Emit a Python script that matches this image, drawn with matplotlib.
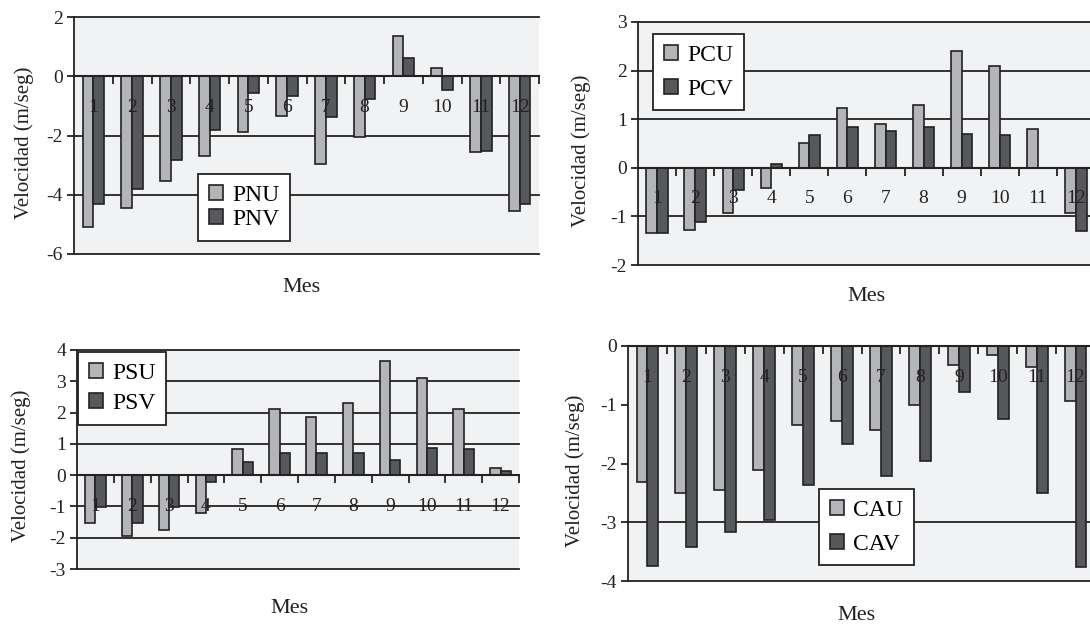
import matplotlib
matplotlib.use("Agg")
import matplotlib.pyplot as plt
from matplotlib.transforms import offset_copy

plt.rcParams['font.family'] = ['Liberation Serif', 'DejaVu Serif']
plt.rcParams['axes.unicode_minus'] = False

# datos (m/seg)
meses = list(range(1, 13))
etiquetas = [str(m) for m in meses]

pnu = [-5.1, -4.45, -3.55, -2.7, -1.87, -1.35, -2.95, -2.05, 1.35, 0.27, -2.57, -4.55]
pnv = [-4.3, -3.8, -2.83, -1.8, -0.58, -0.65, -1.39, -0.78, 0.6, -0.45, -2.52, -4.31]

pcu = [-1.35, -1.27, -0.92, -0.41, 0.51, 1.23, 0.9, 1.3, 2.41, 2.09, 0.8, -0.92]
pcv = [-1.35, -1.11, -0.45, 0.08, 0.67, 0.84, 0.76, 0.84, 0.7, 0.67, 0.0, -1.31]

psu = [-1.52, -1.96, -1.76, -1.21, 0.84, 2.1, 1.85, 2.32, 3.66, 3.12, 2.1, 0.23]
psv = [-1.02, -1.52, -1.02, -0.21, 0.42, 0.71, 0.71, 0.71, 0.47, 0.88, 0.83, 0.13]

cau = [-2.31, -2.51, -2.45, -2.11, -1.34, -1.27, -1.43, -1.0, -0.32, -0.15, -0.35, -0.94]
cav = [-3.74, -3.42, -3.16, -2.97, -2.37, -1.67, -2.21, -1.96, -0.78, -1.24, -2.51, -3.77]

W, H = 1090, 628
fondo = '#f1f2f4'
claro = '#b4b5b9'
oscuro = '#56585b'
borde = '#222222'

fig = plt.figure(figsize=(W / 100, H / 100), dpi=100)


def panel(caja, u, v, nombres, ylim, yticks, rejilla, leg_xy, leg_sep, mes_xy, ylab_x):
    x0, x1, y0, y1 = caja
    ax = fig.add_axes([x0 / W, 1 - y1 / H, (x1 - x0) / W, (y1 - y0) / H])
    ax.set_facecolor(fondo)
    w = 0.28
    xs = [m for m in meses]
    ax.bar([x - w / 2 for x in xs], u, w, color=claro, edgecolor=borde, lw=1.2,
           label=nombres[0], zorder=3)
    ax.bar([x + w / 2 for x in xs], v, w, color=oscuro, edgecolor=borde, lw=1.2,
           label=nombres[1], zorder=3)
    ax.set_xlim(0.5, 12.5)
    ax.set_ylim(*ylim)

    for g in rejilla:
        ax.axhline(g, color=borde, lw=1.3, zorder=1, clip_on=False)

    for s in ['top', 'right']:
        ax.spines[s].set_visible(False)
    ax.spines['left'].set_color(borde)
    ax.spines['left'].set_linewidth(1.3)
    ax.spines['bottom'].set_position(('data', 0))
    ax.spines['bottom'].set_color(borde)
    ax.spines['bottom'].set_linewidth(1.5)
    ax.spines['bottom'].set_zorder(4)

    ax.set_xticks(meses)
    ax.set_xticks([m + 0.5 for m in meses], minor=True)
    ax.tick_params(axis='x', which='major', length=0, labelbottom=False)
    ax.tick_params(axis='x', which='minor', direction='out', length=6, width=1.3, color=borde)

    ax.set_yticks(yticks)
    ax.set_yticklabels([str(t) for t in yticks])
    ax.tick_params(axis='y', direction='out', length=5, width=1.3, color=borde,
                   labelsize=14, labelcolor='#222222', pad=3)

    tr = offset_copy(ax.transData, fig=fig, y=-31, units='dots')
    for m, et in zip(meses, etiquetas):
        ax.text(m, 0, et, transform=tr, ha='center', va='center', fontsize=14,
                color='#222222', zorder=6)

    leg = ax.legend(loc='upper left', bbox_to_anchor=leg_xy, borderaxespad=0,
                    fontsize=17, handlelength=0.6, handleheight=0.6, handletextpad=0.4,
                    labelspacing=leg_sep, borderpad=0.45, fancybox=False, framealpha=1,
                    edgecolor=borde)
    leg.get_frame().set_linewidth(1.3)
    leg.set_zorder(7)

    ax.set_ylabel('Velocidad (m/seg)', fontsize=15, va='center', color='#222222')
    ax.yaxis.set_label_coords(ylab_x, 0.47)
    ax.text(mes_xy[0], mes_xy[1], 'Mes', transform=ax.transAxes, ha='center', va='center',
            fontsize=16, color='#222222')
    return ax


panel((74, 539, 17, 254), pnu, pnv, ['PNU', 'PNV'], (-6, 2), [-6, -4, -2, 0, 2],
      [2, -2, -4, -6], (0.267, 0.338), 0.15, (0.49, -0.14), -0.107)
panel((638, 1095, 22, 265), pcu, pcv, ['PCU', 'PCV'], (-2, 3), [-2, -1, 0, 1, 2, 3],
      [3, 2, 1, -1, -2], (0.033, 0.951), 0.55, (0.5, -0.13), -0.125)
panel((77, 519, 350, 569), psu, psv, ['PSU', 'PSV'], (-3, 4), [-3, -2, -1, 0, 1, 2, 3, 4],
      [4, 3, 2, 1, -1, -2, -3], (0.002, 0.99), 0.4, (0.48, -0.18), -0.127)
panel((628, 1095, 346, 581), cau, cav, ['CAU', 'CAV'], (-4, 0), [-4, -3, -2, -1, 0],
      [-3, -4], (0.409, 0.391), 0.55, (0.49, -0.145), -0.113)

fig.savefig('out.png', dpi=100)
